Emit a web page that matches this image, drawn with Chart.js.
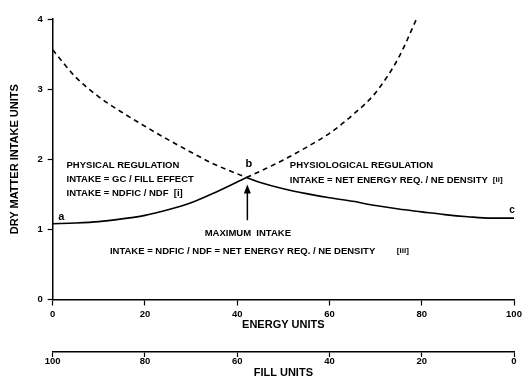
<!DOCTYPE html>
<html>
<head>
<meta charset="utf-8">
<script src="https://cdn.jsdelivr.net/npm/chart.js@4.4.0/dist/chart.umd.min.js"></script>
<style>
    html, body { margin: 0; padding: 0; background: #fff; }
    #wrap { width: 522px; height: 378px; }
</style>
</head>
<body>
<div id="wrap"><canvas id="intakeChart"></canvas></div>
<script>
// Physical regulation curve (rises with energy units)
const physicalSolidX = [0, 5, 10, 15, 20, 25, 30, 35, 42];
const physicalSolidY = [1.08, 1.09, 1.11, 1.15, 1.20, 1.28, 1.38, 1.52, 1.74];
const physicalDashX = [42, 45, 50, 55, 60, 65, 70, 75, 79];
const physicalDashY = [1.74, 1.83, 1.99, 2.17, 2.37, 2.63, 2.95, 3.45, 4.02];

// Physiological regulation curve (falls with energy units)
const physioDashX = [0, 5, 10, 15, 20, 25, 30, 35, 42];
const physioDashY = [3.56, 3.17, 2.89, 2.67, 2.47, 2.28, 2.10, 1.93, 1.74];
const physioSolidX = [42, 45, 50, 55, 60, 65, 70, 75, 80, 85, 90, 95, 100];
const physioSolidY = [1.74, 1.67, 1.58, 1.51, 1.45, 1.40, 1.34, 1.29, 1.25, 1.21, 1.18, 1.16, 1.16];

// Axis ticks
const intakeTicks = [0, 1, 2, 3, 4];
const energyTicks = [0, 20, 40, 60, 80, 100];
const fillTicks = [100, 80, 60, 40, 20, 0];

const FONT = "'Liberation Sans', Arial, Helvetica, sans-serif";

function toPoints(xs, ys) {
    return xs.map((x, i) => ({ x: x, y: ys[i] }));
}

function curve(xs, ys, dashed) {
    return {
        data: toPoints(xs, ys),
        borderColor: '#000',
        borderWidth: 1.6,
        borderDash: dashed ? [5, 4] : [],
        pointRadius: 0,
        cubicInterpolationMode: 'monotone',
        clip: false
    };
}

// Labels written on the plot, placed in data units
const notes = [
    { text: 'PHYSICAL REGULATION', x: 3, y: 1.91, align: 'left' },
    { text: 'INTAKE = GC / FILL EFFECT', x: 3, y: 1.72, align: 'left' },
    { text: 'INTAKE = NDFIC / NDF  [i]', x: 3, y: 1.52, align: 'left' },
    { text: 'a', x: 1.2, y: 1.17, align: 'left', size: 11 },
    { text: 'b', x: 42.5, y: 1.93, align: 'center', size: 11 },
    { text: 'c', x: 99.6, y: 1.27, align: 'center', size: 10 },
    { text: 'PHYSIOLOGICAL REGULATION', x: 51.4, y: 1.91, align: 'left' },
    { text: 'INTAKE = NET ENERGY REQ. / NE DENSITY', x: 51.4, y: 1.70, align: 'left' },
    { text: '[ii]', x: 95.4, y: 1.71, align: 'left', size: 8 },
    { text: 'MAXIMUM  INTAKE', x: 42.3, y: 0.94, align: 'center' },
    { text: 'INTAKE = NDFIC / NDF = NET ENERGY REQ. / NE DENSITY', x: 12.4, y: 0.69, align: 'left' },
    { text: '[iii]', x: 74.6, y: 0.70, align: 'left', size: 8 }
];

const annotationPlugin = {
    id: 'annotations',
    afterDatasetsDraw(chart) {
        const ctx = chart.ctx;
        const xs = chart.scales.x;
        const ys = chart.scales.y;
        ctx.save();
        ctx.fillStyle = '#000';
        ctx.textBaseline = 'middle';
        notes.forEach(n => {
            ctx.font = 'bold ' + (n.size || 9.5) + 'px ' + FONT;
            ctx.textAlign = n.align;
            ctx.fillText(n.text, xs.getPixelForValue(n.x), ys.getPixelForValue(n.y));
        });

        // Arrow pointing up at the crossing
        const ax = xs.getPixelForValue(42.2);
        const yTop = ys.getPixelForValue(1.64);
        const yBot = ys.getPixelForValue(1.13);
        ctx.strokeStyle = '#000';
        ctx.lineWidth = 1.5;
        ctx.beginPath();
        ctx.moveTo(ax, yBot);
        ctx.lineTo(ax, yTop + 6);
        ctx.stroke();
        ctx.beginPath();
        ctx.moveTo(ax, yTop);
        ctx.lineTo(ax - 3.5, yTop + 9);
        ctx.lineTo(ax + 3.5, yTop + 9);
        ctx.closePath();
        ctx.fill();
        ctx.restore();
    }
};

const tickFont = { family: FONT, size: 9.5, weight: 'bold', lineHeight: 1 };
const titleFont = { family: FONT, size: 11, weight: 'bold', lineHeight: 1 };

new Chart(document.getElementById('intakeChart'), {
    type: 'line',
    data: {
        datasets: [
            curve(physicalSolidX, physicalSolidY, false),
            curve(physicalDashX, physicalDashY, true),
            curve(physioDashX, physioDashY, true),
            curve(physioSolidX, physioSolidY, false)
        ]
    },
    options: {
        responsive: true,
        maintainAspectRatio: false,
        animation: false,
        layout: { padding: { top: 19, right: 8, bottom: 0, left: 0 } },
        plugins: {
            legend: { display: false },
            tooltip: { enabled: false }
        },
        scales: {
            x: {
                type: 'linear',
                position: 'bottom',
                min: 0,
                max: 100,
                afterBuildTicks: axis => { axis.ticks = energyTicks.map(v => ({ value: v })); },
                // long tick box, but only the first 5px of each mark is drawn
                grid: { drawOnChartArea: false, tickLength: 10, tickBorderDash: [5, 30], color: '#000', tickWidth: 1.2 },
                border: { display: true, color: '#000', width: 1.5 },
                ticks: { color: '#000', padding: 0, maxRotation: 0, font: tickFont },
                title: {
                    display: true,
                    text: 'ENERGY UNITS',
                    color: '#000',
                    font: titleFont,
                    padding: { top: 0.5, bottom: 21.5 }
                }
            },
            x2: {
                type: 'linear',
                position: 'bottom',
                min: 0,
                max: 100,
                reverse: true,
                afterBuildTicks: axis => { axis.ticks = fillTicks.map(v => ({ value: v })); },
                grid: { drawOnChartArea: false, tickLength: 5, color: '#000', tickWidth: 1.2 },
                border: { display: true, color: '#000', width: 1.5 },
                ticks: { color: '#000', padding: 0, maxRotation: 0, font: tickFont },
                title: {
                    display: true,
                    text: 'FILL UNITS',
                    color: '#000',
                    font: titleFont,
                    padding: { top: 0.5, bottom: 0 }
                }
            },
            y: {
                type: 'linear',
                min: 0,
                max: 4,
                afterBuildTicks: axis => { axis.ticks = intakeTicks.map(v => ({ value: v })); },
                grid: { drawOnChartArea: false, tickLength: 5, color: '#000', tickWidth: 1.2 },
                border: { display: true, color: '#000', width: 1.5 },
                ticks: { color: '#000', padding: 5, font: tickFont },
                title: {
                    display: true,
                    text: 'DRY MATTER INTAKE UNITS',
                    color: '#000',
                    font: titleFont,
                    padding: { top: 9, bottom: 12.4 }
                }
            }
        }
    },
    plugins: [annotationPlugin]
});
</script>
</body>
</html>
